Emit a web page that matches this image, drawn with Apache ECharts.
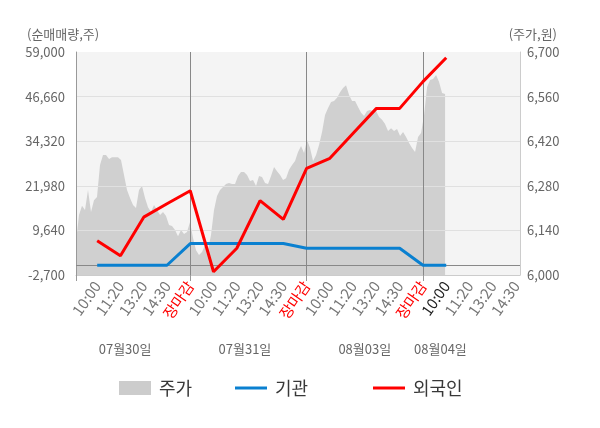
<!DOCTYPE html>
<html>
<head>
<meta charset="utf-8">
<script src="https://cdn.jsdelivr.net/npm/echarts@6/dist/echarts.min.js"></script>
<style>
html,body{margin:0;padding:0;background:#fff;}
#c{width:600px;height:428px;}
</style>
</head>
<body>
<div id="c"></div>
<script>
// ---- data ----
const timeLabels = ['10:00','11:20','13:20','14:30','장마감',
                    '10:00','11:20','13:20','14:30','장마감',
                    '10:00','11:20','13:20','14:30','장마감',
                    '10:00','11:20','13:20','14:30'];
const dateLabels = ['07월30일','07월31일','08월03일','08월04일'];
// net buying (shares) at label points 1..16
const institution = [0, 0, 0, 0, 6000, 6000, 6000, 6000, 6000, 4700, 4700, 4700, 4700, 4700, 0, 0];
const foreigner   = [6800, 2600, 13300, 17000, 20600, -1800, 4700, 17900, 12700, 26800, 29600, 36500, 43400, 43400, 50800, 57400];
// intraday price (won), evenly sampled from day1 open to day4 ~10:00
const price = [
 6104,6188,6217,6204,6267,6198,6235,6245,6345,6377,6377,6364,6370,6370,6370,6361,6314,6267,6242,6220,
 6210,6267,6279,6242,6213,6198,6220,6204,6188,6198,6185,6157,6154,6141,6122,6141,6129,6135,6166,6116,
 6078,6063,6072,6094,6078,6126,6204,6248,6267,6276,6286,6289,6286,6286,6311,6323,6323,6314,6295,6298,
 6279,6311,6308,6289,6286,6311,6339,6326,6314,6298,6304,6330,6345,6358,6386,6405,6383,6424,6399,6358,
 6377,6408,6449,6502,6524,6543,6546,6556,6574,6587,6596,6565,6546,6546,6527,6509,6499,6515,6518,6515,
 6515,6496,6487,6474,6452,6461,6452,6458,6436,6449,6433,6414,6399,6386,6433,6446,6502,6590,6612,6615,
 6628,6606,6571,6568];
const leftTicksMin = -2700, leftTicksMax = 59000, leftStep = 12340;
const rightMin = 6000, rightMax = 6700, rightStep = 140;

// ---- layout constants ----
const X_MIN = 0.09, X_MAX = 19.17;
const PRICE_START = 0.09, PRICE_END = 15.95;
const DATE_POS = [2.2, 7.35, 12.5, 15.75];

const fmt = v => Math.round(v).toLocaleString('en-US');
const leftOff = -leftTicksMin;   // plot left values offset so ticks start at 0
const rightOff = -rightMin;

const priceData = price.map((p, i) => [PRICE_START + i * (PRICE_END - PRICE_START) / (price.length - 1), p + rightOff]);
const instData = institution.map((v, i) => [i + 1, v + leftOff]);
const forData = foreigner.map((v, i) => [i + 1, v + leftOff]);

const FONT = "'Noto Sans CJK KR','Noto Sans',sans-serif";
const legendText = {fontSize: 18, color: '#383838', fontFamily: FONT, padding: [0, 0, 0, 3]};
const chart = echarts.init(document.getElementById('c'), null, {renderer: 'canvas'});
chart.setOption({
  animation: false,
  textStyle: {fontFamily: FONT},
  title: [
    {text: '(순매매량,주)', left: 22, top: 23, textStyle: {fontSize: 13, fontWeight: 'normal', color: '#666', fontFamily: FONT}},
    {text: '(주가,원)', right: 38, top: 23, textStyle: {fontSize: 13, fontWeight: 'normal', color: '#666', fontFamily: FONT}}
  ],
  grid: {left: 76, right: 80, top: 52, bottom: 153, show: true, backgroundColor: '#f4f4f4', borderWidth: 0, outerBoundsMode: 'none'},
  legend: [
    {data: [{name: '주가', icon: 'rect'}], left: 114, top: 374, itemWidth: 32, itemHeight: 14, textStyle: legendText},
    {data: [{name: '기관', icon: 'rect'}], left: 230, top: 374, itemWidth: 32, itemHeight: 3, textStyle: legendText},
    {data: [{name: '외국인', icon: 'rect'}], left: 368, top: 374, itemWidth: 32, itemHeight: 3, textStyle: legendText}
  ],
  xAxis: [
    {type: 'value', min: X_MIN, max: X_MAX, position: 'bottom',
     axisLine: {show: true, onZero: false, lineStyle: {color: '#cccccc'}},
     axisTick: {show: true, customValues: [X_MIN, 5, 10, 15], length: 6, lineStyle: {color: '#999'}},
     splitLine: {show: false},
     axisLabel: {show: true, customValues: timeLabels.map((t, i) => i + 1), rotate: 55, margin: 8,
       formatter: v => {
         const i = Math.round(v) - 1;
         const t = timeLabels[i];
         if (t === '장마감') return '{r|' + t + '}';
         if (i === 15) return '{d|' + t + '}';
         return '{n|' + t + '}';
       },
       rich: {
         n: {color: '#777', fontSize: 15, fontFamily: FONT},
         r: {color: '#ff0000', fontSize: 15, fontFamily: FONT},
         d: {color: '#222', fontSize: 15, fontFamily: FONT}
       }}},
    {type: 'value', min: X_MIN, max: X_MAX, position: 'top',
     axisLine: {show: false},
     axisTick: {show: true, customValues: [X_MIN, 5, 10, 15, X_MAX], length: 7, lineStyle: {color: '#999'}},
     splitLine: {show: false}, axisLabel: {show: false}},
    {type: 'value', min: X_MIN, max: X_MAX, position: 'bottom', offset: 60,
     axisLine: {show: false}, axisTick: {show: false}, splitLine: {show: false},
     axisLabel: {show: true, customValues: DATE_POS, color: '#666', fontSize: 13, fontFamily: FONT,
       formatter: v => dateLabels[DATE_POS.findIndex(p => Math.abs(p - v) < 0.01)] || ''}}
  ],
  yAxis: [
    {type: 'value', position: 'left', min: 0, max: leftTicksMax - leftTicksMin, interval: leftStep, z: 2,
     axisLine: {show: true, lineStyle: {color: '#999'}}, axisTick: {show: false},
     axisLabel: {color: '#666', fontSize: 13, margin: 11, fontFamily: FONT, formatter: v => fmt(v - leftOff)},
     splitLine: {show: true, showMaxLine: false, showMinLine: false, lineStyle: {color: '#e0e0e0'}}},
    {type: 'value', position: 'right', min: 0, max: rightMax - rightMin, interval: rightStep, z: 2,
     axisLine: {show: true, lineStyle: {color: '#cccccc'}}, axisTick: {show: false},
     axisLabel: {color: '#666', fontSize: 13, margin: 7, fontFamily: FONT, formatter: v => fmt(v - rightOff)},
     splitLine: {show: false}}
  ],
  series: [
    {name: '주가', type: 'line', xAxisIndex: 0, yAxisIndex: 1, data: priceData, symbol: 'none', z: 1,
     itemStyle: {color: '#cccccc'}, lineStyle: {width: 0, color: '#cccccc'},
     areaStyle: {color: '#d0d0d0', opacity: 1}},
    {name: 'guide', type: 'line', xAxisIndex: 0, yAxisIndex: 0, data: [], z: 2,
     markLine: {silent: true, symbol: 'none', z: 2.5, label: {show: false},
       lineStyle: {color: '#888', width: 1, type: 'solid'},
       data: [{xAxis: 5}, {xAxis: 10}, {xAxis: 15}, {yAxis: leftOff}]}},
    {name: '기관', type: 'line', xAxisIndex: 0, yAxisIndex: 0, data: instData, symbol: 'none', z: 3,
     itemStyle: {color: '#0a80d0'}, lineStyle: {width: 3, color: '#0a80d0'}},
    {name: '외국인', type: 'line', xAxisIndex: 0, yAxisIndex: 0, data: forData, symbol: 'none', z: 4,
     itemStyle: {color: '#ff0000'}, lineStyle: {width: 3, color: '#ff0000'}}
  ]
});
</script>
</body>
</html>
